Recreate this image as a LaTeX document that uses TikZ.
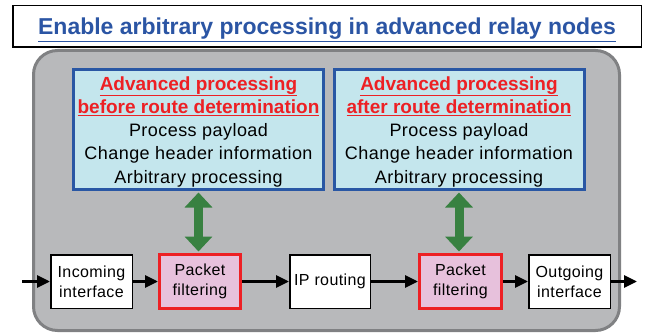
\documentclass[tikz,border=0pt]{standalone}
\usepackage{fontspec}
\setmainfont{Liberation Sans}
\newfontfamily\trackedfont[LetterSpace=2.5]{Liberation Sans}
\usetikzlibrary{arrows.meta}

\definecolor{titleblue}{HTML}{2B55A4}
\definecolor{framegray}{HTML}{B8B9BB}
\definecolor{frameedge}{HTML}{808183}
\definecolor{advblue}{HTML}{2957A4}
\definecolor{advfill}{HTML}{C4E6ED}
\definecolor{headred}{HTML}{ED2024}
\definecolor{filterpink}{HTML}{E7C1DC}
\definecolor{arrowgreen}{HTML}{388141}

\newcommand\heading[1]{{\normalfont\bfseries\fontsize{19}{23.3}\selectfont\color{headred}\underline{#1}}}

\begin{document}
\begin{tikzpicture}[x=1pt,y=-1pt,
    box/.style={draw,line width=1.5pt,fill=white,minimum width=81.5pt,minimum height=53.5pt,
      inner sep=0pt,align=center,font=\trackedfont\fontsize{16}{20}\selectfont},
    filterbox/.style={box,draw=headred,line width=3pt,fill=filterpink,minimum width=81pt,minimum height=54pt},
    advbox/.style={draw=advblue,line width=3pt,fill=advfill,minimum width=250pt,minimum height=120pt,
      inner sep=0pt,align=center,font=\trackedfont\fontsize{18}{23.3}\selectfont},
    flow/.style={line width=3pt,-{Triangle[length=13pt,width=12pt]}},
    bothway/.style={draw=arrowgreen,line width=9pt,shorten <=1.5pt,shorten >=1.5pt,
      {Triangle[length=15pt,width=27pt]}-{Triangle[length=15pt,width=27pt]}}]
  \useasboundingbox (0,0) rectangle (647,334);

  % title banner
  \node[draw,line width=1.5pt,fill=white,minimum width=628.5pt,minimum height=41.5pt,inner sep=0pt,
    text height=17pt,text depth=0pt,font=\bfseries\fontsize{23}{27}\selectfont,text=titleblue] (title)
    at (327,26.5) {\underline{Enable arbitrary processing in advanced relay nodes}};

  % the relay node itself
  \draw[line width=3pt,draw=frameedge,fill=framegray,rounded corners=24pt]
    (33.5,50.5) rectangle (619.5,330.5);

  % processing blocks
  \node[advbox] (adv1) at (198.5,129.5) {\rule{0pt}{18pt}\heading{Advanced processing}\\
    \heading{before route determination}\\Process payload\\Change header information\\Arbitrary processing};
  \node[advbox] (adv2) at (459,129.5) {\rule{0pt}{18pt}\heading{Advanced processing}\\
    \heading{after route determination}\\Process payload\\Change header information\\Arbitrary processing};

  % packet path
  \coordinate (in) at (22,281.5);
  \coordinate (out) at (637,281.5);
  \node[box] (incoming) at (91.5,281.5) {Incoming\\interface};
  \node[filterbox] (pf1) at (200,281.5) {Packet\\filtering};
  \node[box,minimum width=80.5pt] (routing) at (330,281.5) {IP routing};
  \node[filterbox,minimum width=82pt] (pf2) at (460.5,281.5) {Packet\\filtering};
  \node[box] (outgoing) at (569.5,281.5) {Outgoing\\interface};

  \draw[flow] (in) -- (incoming);
  \draw[flow] (incoming) -- (pf1);
  \draw[flow] (pf1) -- (routing);
  \draw[flow] (routing) -- (pf2);
  \draw[flow] (pf2) -- (outgoing);
  \draw[flow] (outgoing) -- (out);

  \draw[bothway] (adv1.south) -- (adv1.south |- pf1.north);
  \draw[bothway] (adv2.south) -- (adv2.south |- pf2.north);
\end{tikzpicture}
\end{document}
